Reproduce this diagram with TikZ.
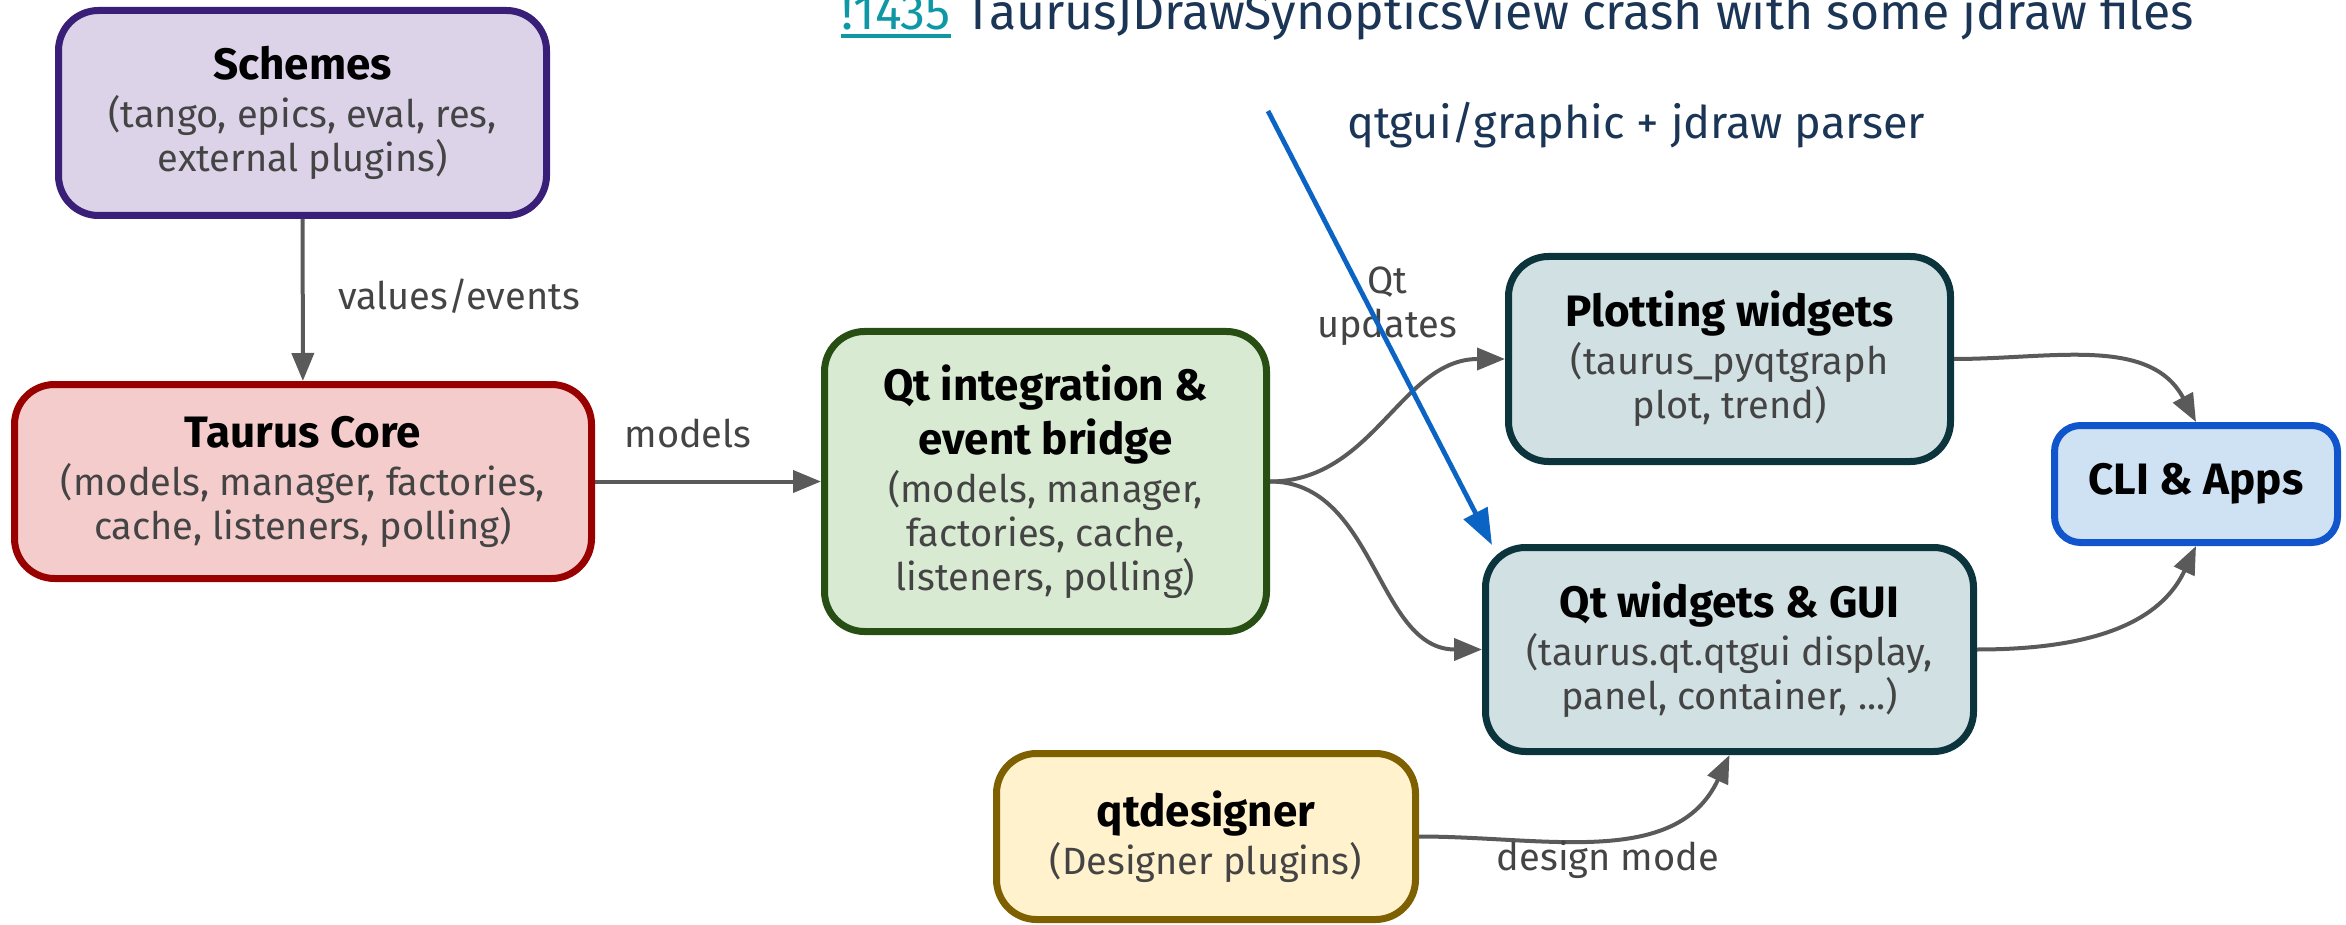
\documentclass[tikz,border=0pt]{standalone}
\usepackage{fontspec}
\setmainfont{Fira Sans}
\usetikzlibrary{arrows.meta,calc}
\definecolor{arrowgray}{HTML}{5A5A5A}
\definecolor{subgray}{HTML}{444444}
\definecolor{navy}{HTML}{1B3556}
\definecolor{linkteal}{HTML}{0E98A6}
\definecolor{bluearrow}{HTML}{0B64C4}
\definecolor{schfill}{HTML}{DCD3E9}\definecolor{schdraw}{HTML}{3A1F78}
\definecolor{corefill}{HTML}{F4CCCC}\definecolor{coredraw}{HTML}{990000}
\definecolor{qtfill}{HTML}{D9EAD3}\definecolor{qtdraw}{HTML}{274E13}
\definecolor{wfill}{HTML}{D0E0E3}\definecolor{wdraw}{HTML}{0C343D}
\definecolor{clifill}{HTML}{CFE2F3}\definecolor{clidraw}{HTML}{1155CC}
\definecolor{qdfill}{HTML}{FFF2CC}\definecolor{qddraw}{HTML}{7F6000}
\newcommand\hd[1]{{\fontsize{22}{26}\selectfont\bfseries\color{black}#1}}
\begin{document}
\begin{tikzpicture}[x=0.5pt,y=-0.5pt,
  box/.style={rounded corners=20pt, line width=3.5pt, align=center, inner sep=0pt,
    font=\fontsize{19}{22}\selectfont, text=subgray},
  conn/.style={draw=arrowgray, line width=2pt, -{Triangle[length=14pt,width=11pt]}},
  lbl/.style={font=\fontsize{19}{22}\selectfont, text=subgray, align=center, inner sep=0pt}]
\useasboundingbox (0,0) rectangle (2346,925);

\node[box, fill=schfill, draw=schdraw, minimum width=244pt, minimum height=102.5pt] (sch) at (302.5,113) {\hd{Schemes}\\[2pt](tango, epics, eval, res,\\external plugins)};
\node[box, fill=corefill, draw=coredraw, minimum width=288.5pt, minimum height=97pt] (core) at (303,481.5) {\hd{Taurus Core}\\[2pt](models, manager, factories,\\cache, listeners, polling)};
\node[box, fill=qtfill, draw=qtdraw, minimum width=221pt, minimum height=150pt] (qt) at (1045.5,481.5) {\hd{Qt integration \&}\\[3pt]\hd{event bridge}\\[2pt](models, manager,\\factories, cache,\\listeners, polling)};
\node[box, fill=wfill, draw=wdraw, minimum width=221pt, minimum height=102.5pt] (plot) at (1729.5,359) {\hd{Plotting widgets}\\[2pt](taurus\_pyqtgraph\\plot, trend)};
\node[box, fill=wfill, draw=wdraw, minimum width=244pt, minimum height=102pt] (qtw) at (1729.5,649.5) {\hd{Qt widgets \& GUI}\\[2pt](taurus.qt.qtgui display,\\panel, container, ...)};
\node[box, rounded corners=13pt, fill=clifill, draw=clidraw, minimum width=141.5pt, minimum height=58.5pt] (cli) at (2196,484) {\hd{CLI \& Apps}};
\node[box, fill=qdfill, draw=qddraw, minimum width=209.5pt, minimum height=83pt] (qd) at (1206,836.5) {\hd{qtdesigner}\\[2pt](Designer plugins)};

\draw[conn] (sch) -- (core);
\node[lbl] (lve) at (459,296) {values/events};
\draw[conn] (core) -- (qt);
\node[lbl] (lmod) at (688,433) {models};
\draw[conn] (qt.east) to[out=0,in=180] (plot.west);
\draw[conn] (qt.east) to[out=0,in=180] (qtw.west);
\node[lbl] (lqt) at (1387,306) {Qt\\updates};
\draw[conn] (plot.east) to[out=0,in=118] (cli.north);
\draw[conn] (qtw.east) to[out=0,in=-115] (cli.south);
\draw[conn] (qd.east) to[out=0,in=-115] (qtw.south);
\node[lbl] (ldm) at (1608,860) {design mode};

\coordinate (bstart) at (1268,111);
\coordinate (bend) at (1492,545);
\draw[draw=bluearrow, line width=2.4pt, -{Triangle[length=18pt,width=13pt]}] (bstart) -- (bend);
\node[font=\fontsize{22.5}{26}\selectfont, text=navy, anchor=base west, inner sep=0pt] (ljd) at (1347,139) {qtgui/graphic + jdraw parser};

\node[font=\fontsize{25}{30}\selectfont, text=linkteal, anchor=base west, inner sep=0pt] (link) at (841,30) {!1435};
\draw[linkteal, line width=2pt] ([yshift=-3pt]link.base west) -- ([yshift=-3pt]link.base east);
\node[font=\fontsize{25}{30}\selectfont, text=navy, anchor=base west, inner sep=0pt] (ttl) at ([xshift=7pt]link.base east) {TaurusJDrawSynopticsView crash with some jdraw files};
\end{tikzpicture}
\end{document}
